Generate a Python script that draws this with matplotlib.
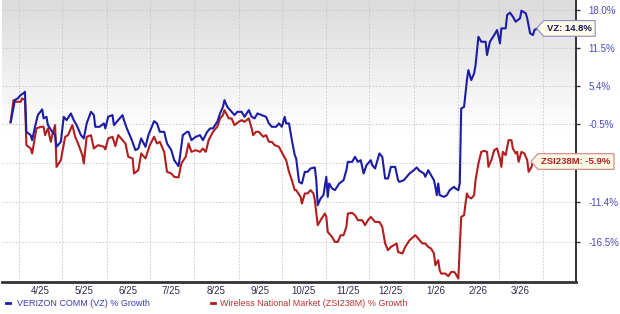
import numpy as np
import matplotlib
matplotlib.use("Agg")
import matplotlib.pyplot as plt
from matplotlib.lines import Line2D
from matplotlib.path import Path

# Growth series, days counted from 2025-04-01
start = np.datetime64("2025-04-01")

vz_days = [-6, -3, -1, 1, 3, 4, 5, 8, 9, 11, 13, 16, 17, 19, 20, 23, 25, 26, 29, 31,
           33, 36, 38, 40, 43, 45, 47, 50, 52, 53, 56, 59, 60, 62, 65, 66, 69, 72, 73, 75,
           78, 81, 83, 85, 88, 90, 94, 96, 98, 101, 103, 106, 108, 111, 112, 114, 117, 118, 120, 123,
           126, 128, 131, 133, 135, 138, 140, 142, 143, 145, 148, 150, 152, 155, 157, 160, 162, 164, 166, 169,
           172, 174, 176, 179, 181, 183, 185, 186, 188, 190, 192, 193, 195, 197, 199, 201, 203, 206, 207, 208,
           210, 212, 214, 215, 216, 218, 220, 223, 226, 228, 229, 232, 234, 236, 238, 240, 242, 245, 246, 248,
           251, 253, 255, 257, 259, 262, 264, 265, 268, 270, 272, 275, 277, 279, 282, 283, 285, 287, 289, 290,
           291, 292, 293, 296, 298, 300, 303, 304, 306, 307, 308, 310, 312, 313, 315, 317, 318, 320, 322, 325,
           326, 328, 331, 333, 335, 336, 339, 340, 342, 344, 346, 349, 350, 353, 354, 356, 358, 359, 361]
vz_growth = [-0.24, 3.14, 3.41, 3.92, 4.19, 4.43, -1.63, -2.12, -2.85, -0.89, 0.86, 1.72, 0.36, 0.60, -0.64, -1.63, -2.12, -3.81, -3.09, 0.60,
             0.10, 1.11, 0.10, -0.64, -2.12, -2.60, -0.39, 1.35, 0.86, -0.89, -0.89, -0.39, -1.13, 0.60, 0.86, -0.64, 0.10, 0.86, 0.10, -1.13,
             -2.60, -4.29, -4.05, -2.60, -3.81, -2.12, -0.05, -0.39, -1.63, -1.63, -3.33, -4.29, -5.71, -6.55, -5.24, -2.12, -1.63, -1.63, -2.85, -2.36,
             -2.12, -2.85, -1.63, -1.13, -1.13, -0.15, 1.11, 2.11, 3.14, 2.11, 1.35, 0.86, 1.35, 1.35, 0.60, 1.61, 0.60, 0.36, 1.11, 0.86,
             0.60, -0.39, -0.89, -0.89, -0.39, -0.89, 0.60, -0.39, -0.39, -2.85, -5.00, -5.47, -8.72, -8.94, -7.34, -7.34, -6.87, -6.73, -8.49, -11.84,
             -10.95, -10.51, -8.03, -10.74, -8.94, -9.61, -9.84, -8.94, -8.49, -7.11, -5.95, -5.95, -5.24, -5.95, -5.71, -7.57, -6.41, -5.71, -6.41, -6.87,
             -4.76, -5.24, -8.26, -8.26, -6.65, -6.65, -8.49, -8.72, -8.49, -8.03, -7.57, -7.11, -6.73, -7.21, -7.57, -8.03, -7.11, -7.80, -8.49, -9.39,
             -10.51, -8.94, -10.51, -10.74, -10.51, -9.84, -9.39, -9.61, -9.84, -8.94, 1.87, 2.11, 6.27, 7.87, 6.27, 7.34, 8.69, 13.38, 12.54, 12.54,
             10.33, 12.54, 13.67, 14.52, 12.27, 14.81, 14.81, 17.13, 17.53, 16.83, 15.96, 16.55, 17.88, 17.42, 16.55, 13.96, 13.67, 14.52, 14.8]

zsi_days = [-6, -4, -2, 1, 2, 4, 5, 8, 9, 11, 12, 15, 17, 18, 20, 22, 23, 25, 26, 29,
            32, 34, 37, 39, 41, 44, 45, 47, 50, 52, 55, 59, 60, 62, 65, 67, 69, 72, 74, 76,
            79, 80, 83, 85, 88, 91, 94, 96, 98, 101, 103, 106, 108, 111, 113, 116, 118, 120, 123, 126,
            128, 130, 132, 135, 138, 140, 142, 143, 146, 148, 150, 153, 155, 157, 160, 162, 163, 165, 167, 170,
            172, 174, 176, 178, 181, 184, 186, 188, 190, 192, 193, 196, 197, 199, 201, 203, 205, 206, 208, 210,
            213, 214, 215, 218, 220, 222, 224, 226, 228, 229, 232, 234, 236, 239, 241, 243, 245, 248, 251, 253,
            255, 257, 259, 261, 263, 264, 267, 269, 272, 276, 278, 281, 283, 285, 287, 289, 290, 292, 293, 294,
            297, 299, 301, 303, 304, 306, 307, 308, 310, 311, 312, 313, 315, 317, 318, 320, 322, 324, 326, 327,
            329, 331, 333, 335, 336, 337, 339, 341, 343, 344, 346, 347, 348, 350, 352, 354, 355, 357, 358]
zsi_growth = [-0.15, 3.14, 2.88, 2.88, 3.41, 3.14, -3.57, -4.05, -4.76, -2.36, -1.13, -0.89, -0.89, -2.12, -1.13, -3.09, -2.12, -0.64, -6.65, -5.71,
              -2.36, -2.12, -0.64, -2.36, -3.33, -5.00, -6.17, -2.36, -2.12, -4.05, -3.57, -3.81, -4.19, -2.60, -2.36, -3.71, -2.12, -2.85, -3.33, -5.24,
              -5.47, -7.57, -7.11, -4.76, -5.47, -3.57, -2.36, -3.33, -3.09, -4.53, -7.34, -7.57, -8.03, -8.12, -6.17, -5.24, -3.33, -4.53, -4.29, -4.53,
              -4.05, -4.53, -2.85, -1.63, -0.89, 0.36, 0.86, 1.61, 0.36, 0.36, -0.64, -0.15, 0.10, -0.15, 0.36, -1.13, -2.12, -1.63, -1.63, -2.36,
              -2.12, -3.09, -3.09, -3.57, -3.81, -5.00, -5.71, -7.34, -8.49, -9.84, -9.84, -10.74, -11.62, -10.28, -10.28, -9.84, -10.28, -11.18, -14.44, -13.80,
              -12.93, -13.37, -15.29, -15.92, -16.55, -16.55, -15.71, -15.71, -14.66, -12.93, -12.85, -13.15, -13.80, -13.80, -14.44, -13.80, -13.37, -14.02, -14.02, -14.66,
              -16.75, -17.58, -17.17, -16.96, -16.75, -17.79, -17.98, -17.17, -16.34, -15.71, -16.13, -16.75, -16.75, -17.17, -17.37, -17.98, -19.41, -18.80, -20.01, -20.40,
              -20.40, -20.72, -20.21, -20.21, -20.40, -21.00, -17.17, -13.37, -13.15, -11.62, -10.28, -10.74, -10.95, -10.51, -8.49, -6.17, -4.53, -4.39, -4.53, -6.65,
              -5.71, -4.29, -4.05, -5.47, -6.65, -4.53, -5.00, -2.85, -2.85, -4.05, -4.76, -4.53, -5.95, -4.53, -4.76, -5.71, -7.34, -6.65, -5.9]

month_starts = ["2025-04-01", "2025-05-01", "2025-06-01", "2025-07-01", "2025-08-01", "2025-09-01",
                "2025-10-01", "2025-11-01", "2025-12-01", "2026-01-01", "2026-02-01", "2026-03-01", "2026-04-01"]
month_labels = ["4/25", "5/25", "6/25", "7/25", "8/25", "9/25",
                "10/25", "11/25", "12/25", "1/26", "2/26", "3/26"]
y_ticks = [18.0, 11.5, 5.4, -0.5, -6.1, -11.4, -16.5]
y_labels = ["18.0%", "11.5%", "5.4%", "-0.5%", "", "-11.4%", "-16.5%"]

VZ_COLOR = "#1c1ca6"
ZSI_COLOR = "#b21e1e"

plt.rcParams["font.family"] = ["Liberation Sans", "DejaVu Sans"]


def fwd(g):
    return np.log1p(np.asarray(g, dtype=float) / 100.0)


def inv(v):
    return np.expm1(np.asarray(v, dtype=float)) * 100.0


def tag_box(x0, y0, width, height, mutation_size):
    # label box with a pointed left side
    pad = 0.35 * mutation_size
    x0, y0 = x0 - pad, y0 - pad
    w, h = width + 2 * pad, height + 2 * pad
    tip = 0.45 * h
    verts = [(x0, y0), (x0 + w, y0), (x0 + w, y0 + h), (x0, y0 + h),
             (x0 - tip, y0 + h / 2), (x0, y0)]
    codes = [Path.MOVETO] + [Path.LINETO] * 4 + [Path.CLOSEPOLY]
    return Path(verts, codes)


vz_dates = start + np.array(vz_days).astype("timedelta64[D]")
zsi_dates = start + np.array(zsi_days).astype("timedelta64[D]")
grid_dates = np.array(month_starts, dtype="datetime64[D]")
label_dates = grid_dates[:-1] + (grid_dates[1:] - grid_dates[:-1]) // 2

fig = plt.figure(figsize=(6.2, 3.14), dpi=100)
pos = [2 / 620, 32 / 314, 574 / 620, 282 / 314]

# grey-to-white backdrop
bg = fig.add_axes(pos, zorder=0)
shade = np.ones((200, 1, 3))
fade = np.clip(np.linspace(0, 1, 200) / 0.47, 0, 1)
shade[:, 0, :] = (0.86 + 0.14 * fade)[:, None]
bg.imshow(shade, aspect="auto", extent=[0, 1, 0, 1])
bg.axis("off")

ax = fig.add_axes(pos, zorder=1)
ax.patch.set_alpha(0)
ax.set_yscale("function", functions=(fwd, inv))

ax.plot(zsi_dates, zsi_growth, color=ZSI_COLOR, lw=1.5, zorder=3)
ax.plot(vz_dates, vz_growth, color=VZ_COLOR, lw=1.5, zorder=4)

ax.set_xlim(start - np.timedelta64(12, "D"), start + np.timedelta64(388, "D"))
ax.set_ylim(-21.4, 19.78)

ax.set_xticks(grid_dates)
ax.set_xticklabels([])
ax.set_xticks(label_dates, minor=True)
ax.set_xticklabels(month_labels, minor=True)
ax.tick_params(axis="x", which="both", length=0)
ax.tick_params(axis="x", which="minor", labelsize=7, colors="#2e2e4e", pad=3)

ax.yaxis.tick_right()
ax.set_yticks(y_ticks)
ax.set_yticklabels(y_labels)
ax.yaxis.set_minor_locator(plt.NullLocator())
ax.tick_params(axis="y", length=3, width=1, color="#333333", labelsize=7,
               labelcolor="#4a4ac4", pad=6)

ax.grid(True, which="major", color="#c6c6c6", linestyle=(0, (2, 2)), lw=0.6)

for side in ["left", "top"]:
    ax.spines[side].set_visible(False)
ax.spines["right"].set_color("#333333")
ax.spines["right"].set_linewidth(1.4)
ax.spines["bottom"].set_color("#333333")
ax.spines["bottom"].set_linewidth(2)

# end-of-line labels
ax.annotate("VZ: 14.8%", xy=(vz_dates[-1], vz_growth[-1]), xytext=(7, 0),
            textcoords="offset points", ha="left", va="center", fontsize=6.8,
            fontweight="bold", color="#1a1a6a", zorder=6,
            bbox=dict(boxstyle=tag_box, fc="#fffbe6", ec="#8a8ac8", lw=0.8))
ax.annotate("ZSI238M: -5.9%", xy=(zsi_dates[-1], zsi_growth[-1]), xytext=(6, 0),
            textcoords="offset points", ha="left", va="center", fontsize=6.8,
            fontweight="bold", color=ZSI_COLOR, zorder=6,
            bbox=dict(boxstyle=tag_box, fc="#fffbe6", ec="#d08080", lw=0.8))

# legend row under the chart
fig.add_artist(Line2D([6 / 620, 10 / 620], [0.035, 0.035], color=VZ_COLOR, lw=2))
fig.text(17 / 620, 0.035, "VERIZON COMM (VZ) % Growth", color="#3a3ab8",
         fontsize=6.5, va="center")
fig.add_artist(Line2D([211 / 620, 215 / 620], [0.035, 0.035], color=ZSI_COLOR, lw=2))
fig.text(220 / 620, 0.035, "Wireless National Market (ZSI238M) % Growth", color="#c03030",
         fontsize=6.5, va="center")

fig.savefig("out.png", dpi=100)
